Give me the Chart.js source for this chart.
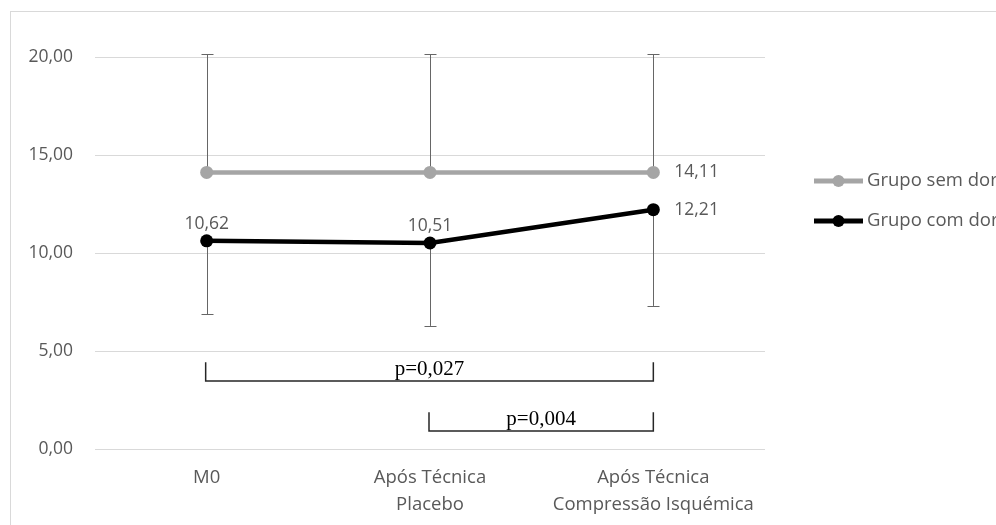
<!DOCTYPE html>
<html>
<head>
<meta charset="utf-8">
<script src="https://cdn.jsdelivr.net/npm/chart.js@4.4.0/dist/chart.umd.min.js"></script>
<style>
  html, body { margin: 0; padding: 0; background: #fff; overflow: hidden; }
  #frame { position: absolute; left: 10px; top: 11px; width: 1100px; height: 600px; border: 1px solid #d9d9d9; }
  #wrap { position: absolute; left: 0; top: 0; width: 1040px; height: 560px; }
</style>
</head>
<body>
<div id="frame"></div>
<div id="wrap"><canvas id="chart"></canvas></div>
<script>
// categories and values
const categories = [["M0"], ["Após Técnica", "Placebo"], ["Após Técnica", "Compressão Isquémica"]];
const semDor = [14.11, 14.11, 14.11];
const comDor = [10.62, 10.51, 12.21];
// one-sided error bars (SD)
const semDorErrUp = [6.04, 6.04, 6.04];
const comDorErrDown = [3.75, 4.23, 4.91];
const yTicks = [0, 5, 10, 15, 20];
// significance brackets: from / to category index, p text
const bracketFrom = [0, 1];
const bracketTo = [2, 2];
const bracketText = ["p=0,027", "p=0,004"];

const fmt = v => v.toFixed(2).replace(".", ",");
const textColor = "#595959";
const numFont = "17.5px 'Open Sans'";
const textFont = "18.5px 'Open Sans'";

// error bars drawn behind the markers
const errorBars = {
  id: "errorBars",
  beforeDatasetsDraw(chart) {
    const ctx = chart.ctx;
    const y = chart.scales.y;
    const x = chart.scales.x;
    ctx.save();
    ctx.strokeStyle = "#666666";
    ctx.lineWidth = 1;
    const bar = (i, from, to) => {
      const px = Math.round(x.getPixelForValue(i)) + 0.5;
      const a = y.getPixelForValue(from);
      const b = y.getPixelForValue(to);
      ctx.beginPath();
      ctx.moveTo(px, a);
      ctx.lineTo(px, b);
      ctx.moveTo(px - 6, Math.round(b) + 0.5);
      ctx.lineTo(px + 6, Math.round(b) + 0.5);
      ctx.stroke();
    };
    semDor.forEach((v, i) => bar(i, v, v + semDorErrUp[i]));
    comDor.forEach((v, i) => bar(i, v, v - comDorErrDown[i]));
    ctx.restore();
  }
};

// value labels: which points get a label and where
const labelPlace = [
  [null, null, "right"],
  ["top", "top", "right"]
];
const valueLabels = {
  id: "valueLabels",
  afterDatasetsDraw(chart) {
    const ctx = chart.ctx;
    ctx.save();
    ctx.font = numFont;
    ctx.fillStyle = textColor;
    chart.data.datasets.forEach((ds, di) => {
      const meta = chart.getDatasetMeta(di);
      meta.data.forEach((pt, i) => {
        const where = labelPlace[di][i];
        if (!where) return;
        const txt = fmt(ds.data[i]);
        ctx.textBaseline = "middle";
        if (where === "top") {
          ctx.textAlign = "center";
          ctx.fillText(txt, pt.x, pt.y - 17);
        } else {
          ctx.textAlign = "left";
          ctx.fillText(txt, pt.x + 21, pt.y);
        }
      });
    });
    ctx.restore();
  }
};

// brackets with p values (levels in axis units)
const bracketLevel = [3.47, 0.92];
const brackets = {
  id: "brackets",
  afterDraw(chart) {
    const ctx = chart.ctx;
    const x = chart.scales.x;
    const y = chart.scales.y;
    ctx.save();
    ctx.strokeStyle = "#262626";
    ctx.lineWidth = 1.5;
    ctx.fillStyle = "#000";
    ctx.font = "21px 'Liberation Serif'";
    ctx.textAlign = "center";
    ctx.textBaseline = "alphabetic";
    bracketFrom.forEach((f, k) => {
      const x0 = x.getPixelForValue(f) - 1;
      const x1 = x.getPixelForValue(bracketTo[k]);
      const yl = y.getPixelForValue(bracketLevel[k]);
      const yt = y.getPixelForValue(bracketLevel[k] + 0.95);
      ctx.beginPath();
      ctx.moveTo(x0, yt);
      ctx.lineTo(x0, yl);
      ctx.lineTo(x1, yl);
      ctx.lineTo(x1, yt);
      ctx.stroke();
      ctx.fillText(bracketText[k], (x0 + x1) / 2, yl - 6);
    });
    ctx.restore();
  }
};

// legend on the right, cut by the window edge like the original
const sideLegend = {
  id: "sideLegend",
  afterDraw(chart) {
    const ctx = chart.ctx;
    ctx.save();
    ctx.font = textFont;
    ctx.textAlign = "left";
    ctx.textBaseline = "middle";
    chart.data.datasets.forEach((ds, i) => {
      const ly = 181 + i * 40;
      ctx.strokeStyle = ds.borderColor;
      ctx.lineWidth = 5;
      ctx.beginPath();
      ctx.moveTo(814, ly);
      ctx.lineTo(863, ly);
      ctx.stroke();
      ctx.fillStyle = ds.pointBackgroundColor;
      ctx.beginPath();
      ctx.arc(838.5, ly, 6, 0, Math.PI * 2);
      ctx.fill();
      ctx.fillStyle = textColor;
      ctx.fillText(ds.label, 867, ly);
    });
    ctx.restore();
  }
};

new Chart(document.getElementById("chart"), {
  type: "line",
  data: {
    labels: categories,
    datasets: [
      {
        label: "Grupo sem dor",
        data: semDor,
        borderColor: "#a5a5a5",
        backgroundColor: "#a5a5a5",
        pointBackgroundColor: "#a5a5a5",
        pointBorderColor: "#a5a5a5",
        borderWidth: 4.5,
        pointRadius: 6.5,
        pointBorderWidth: 0,
        tension: 0
      },
      {
        label: "Grupo com dor",
        data: comDor,
        borderColor: "#000000",
        backgroundColor: "#000000",
        pointBackgroundColor: "#000000",
        pointBorderColor: "#000000",
        borderWidth: 4.5,
        pointRadius: 6.5,
        pointBorderWidth: 0,
        tension: 0
      }
    ]
  },
  options: {
    responsive: true,
    maintainAspectRatio: false,
    animation: false,
    layout: { padding: { left: 0, top: 57, right: 275, bottom: 0 } },
    plugins: {
      legend: { display: false },
      tooltip: { enabled: false }
    },
    scales: {
      x: {
        offset: true,
        grid: { display: false, drawTicks: false },
        border: { display: false },
        ticks: {
          color: textColor,
          font: { family: "'Open Sans'", size: 18.5, lineHeight: 1.42 },
          padding: 16,
          maxRotation: 0
        },
        afterFit: s => { s.height = 111; }
      },
      y: {
        min: 0,
        max: 20,
        grid: { color: "#d9d9d9", lineWidth: 1, drawTicks: false },
        border: { display: false },
        afterBuildTicks: s => { s.ticks = yTicks.map(v => ({ value: v })); },
        ticks: {
          color: textColor,
          font: { family: "'Open Sans'", size: 17.5 },
          padding: 22,
          callback: v => fmt(v)
        },
        afterFit: s => { s.width = 95; }
      }
    }
  },
  plugins: [errorBars, valueLabels, brackets, sideLegend]
});
</script>
</body>
</html>
